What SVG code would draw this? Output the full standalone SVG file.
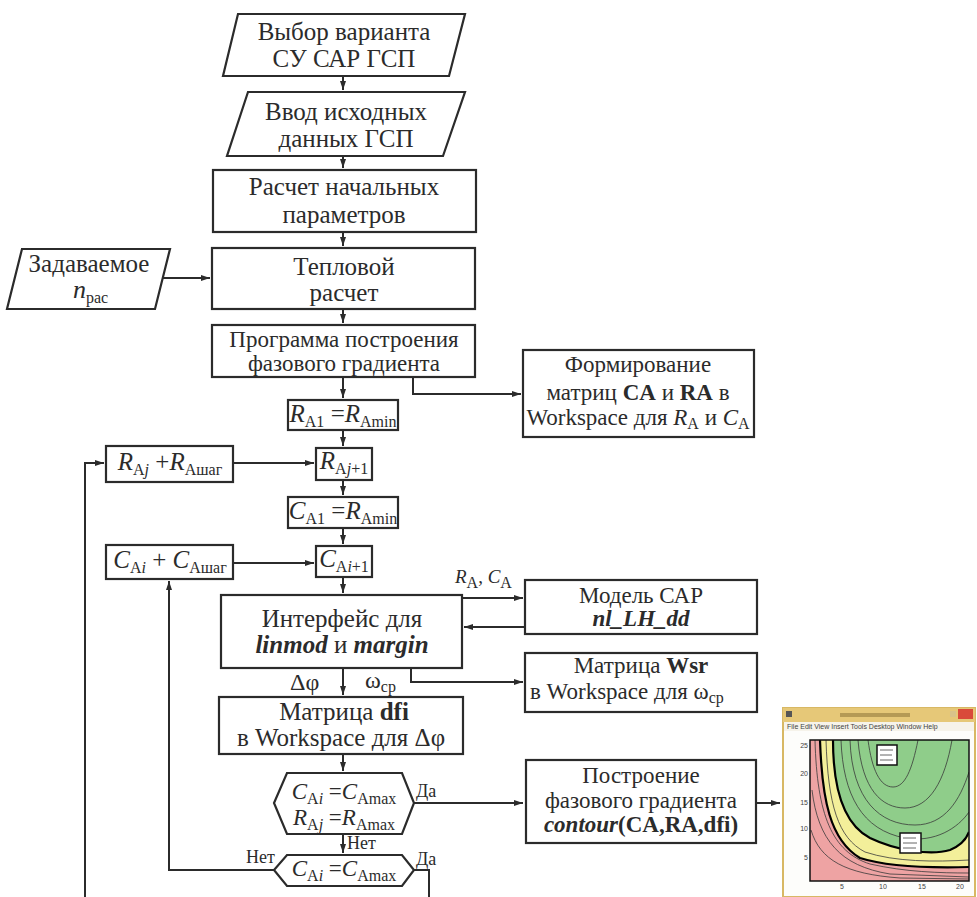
<svg xmlns="http://www.w3.org/2000/svg" width="977" height="897" viewBox="0 0 977 897" font-family="'Liberation Serif','Times New Roman',serif">
<style>
.t{font-family:"Liberation Serif","Times New Roman",serif;fill:#2b2b2b}
.m{font-size:25px}
.r{font-size:23px}
.s{font-size:19px}
.box{fill:#fff;stroke:#2b2b2b;stroke-width:2.2}
.ln{fill:none;stroke:#2b2b2b;stroke-width:2}
.i{font-style:italic}
.b{font-weight:bold}
.sub{font-size:16px}
.ct{fill:none;stroke:#3a3a3a;stroke-width:0.8}
.ck{fill:none;stroke:#000;stroke-width:2.2}
.tk{font-family:"Liberation Sans",Arial,sans-serif;font-size:7px;fill:#444}
</style>
<defs>
<marker id="a" markerWidth="10" markerHeight="8" refX="9" refY="4" orient="auto" markerUnits="userSpaceOnUse"><path d="M0,1 L9,4 L0,7 Z" fill="#2b2b2b"/></marker>
</defs>
<rect width="977" height="897" fill="#fff"/>

<g id="connectors">
<path class="ln" d="M343,76 V90" marker-end="url(#a)"/>
<path class="ln" d="M343,156 V168" marker-end="url(#a)"/>
<path class="ln" d="M343,232 V246" marker-end="url(#a)"/>
<path class="ln" d="M163,278 H210" marker-end="url(#a)"/>
<path class="ln" d="M343,309 V323" marker-end="url(#a)"/>
<path class="ln" d="M413,377 V394 H521" marker-end="url(#a)"/>
<path class="ln" d="M343,377 V398" marker-end="url(#a)"/>
<path class="ln" d="M343,430 V446" marker-end="url(#a)"/>
<path class="ln" d="M233,463 H314" marker-end="url(#a)"/>
<path class="ln" d="M85,897 V463 H104" marker-end="url(#a)"/>
<path class="ln" d="M343,480 V495" marker-end="url(#a)"/>
<path class="ln" d="M343,528 V544" marker-end="url(#a)"/>
<path class="ln" d="M233,563 H314" marker-end="url(#a)"/>
<path class="ln" d="M274,870 H169 V581" marker-end="url(#a)"/>
<path class="ln" d="M343,577 V593" marker-end="url(#a)"/>
<path class="ln" d="M462,598 H523" marker-end="url(#a)"/>
<path class="ln" d="M525,627 H464" marker-end="url(#a)"/>
<path class="ln" d="M411,668 V682 H523" marker-end="url(#a)"/>
<path class="ln" d="M343,668 V695" marker-end="url(#a)"/>
<path class="ln" d="M343,754 V771" marker-end="url(#a)"/>
<path class="ln" d="M414,803 H523" marker-end="url(#a)"/>
<path class="ln" d="M343,834 V853" marker-end="url(#a)"/>
<path class="ln" d="M414,870 H429 V897"/>
<path class="ln" d="M756,803 H780" marker-end="url(#a)"/>
<text class="t s" x="455" y="583"><tspan class="i">R</tspan><tspan class="sub" dy="5">A</tspan><tspan dy="-5">, </tspan><tspan class="i">C</tspan><tspan class="sub" dy="5">A</tspan></text>
<text class="t" font-size="24" x="290" y="690">Δφ</text>
<text class="t" font-size="24" x="365" y="688">ω<tspan class="sub" dy="4">ср</tspan></text>
<text class="t" font-size="18" x="416" y="797">Да</text>
<text class="t" font-size="18" x="347" y="849">Нет</text>
<text class="t" font-size="18" x="246" y="863">Нет</text>
<text class="t" font-size="18" x="416" y="865">Да</text>
</g>

<g id="n1">
<polygon class="box" points="238,14 465,14 449,76 223,76"/>
<text class="t m" x="344" y="40" text-anchor="middle">Выбор варианта</text>
<text class="t m" x="344" y="67" text-anchor="middle">СУ САР ГСП</text>
</g>
<g id="n2">
<polygon class="box" points="248,92 465,92 443,156 227,156"/>
<text class="t m" x="346" y="120" text-anchor="middle">Ввод исходных</text>
<text class="t m" x="346" y="147" text-anchor="middle">данных ГСП</text>
</g>
<g id="n3">
<rect class="box" x="213" y="170" width="263" height="62"/>
<text class="t m" x="344" y="195" text-anchor="middle">Расчет начальных</text>
<text class="t m" x="344" y="223" text-anchor="middle">параметров</text>
</g>
<g id="n4">
<polygon class="box" points="22,249 170,249 155,309 7,309"/>
<text class="t m" x="89" y="272" text-anchor="middle">Задаваемое</text>
<text class="t" x="73" y="298" font-size="26"><tspan class="i">n</tspan><tspan class="sub" dy="5">рас</tspan></text>
</g>
<g id="n5">
<rect class="box" x="212" y="248" width="263" height="61"/>
<text class="t m" x="344" y="275" text-anchor="middle">Тепловой</text>
<text class="t m" x="344" y="301" text-anchor="middle">расчет</text>
</g>
<g id="n6">
<rect class="box" x="212" y="325" width="263" height="52"/>
<text class="t" font-size="23" x="344" y="347" text-anchor="middle">Программа построения</text>
<text class="t" font-size="23" x="344" y="371" text-anchor="middle">фазового градиента</text>
</g>
<g id="n7">
<rect class="box" x="523" y="350" width="231" height="87"/>
<text class="t r" x="638" y="372" text-anchor="middle">Формирование</text>
<text class="t r" x="638" y="400" text-anchor="middle">матриц <tspan class="b">CA</tspan> и <tspan class="b">RA</tspan> в</text>
<text class="t r" x="638" y="425" text-anchor="middle">Workspace для <tspan class="i">R</tspan><tspan class="sub" dy="4">A</tspan><tspan dy="-4"> и </tspan><tspan class="i">C</tspan><tspan class="sub" dy="4">A</tspan></text>
</g>
<g id="n8">
<rect class="box" x="288" y="400" width="110" height="30"/>
<text class="t" font-size="25" x="343" y="422" text-anchor="middle"><tspan class="i">R</tspan><tspan class="sub" dy="5">A1</tspan><tspan dy="-5"> =</tspan><tspan class="i">R</tspan><tspan class="sub" dy="5">Amin</tspan></text>
</g>
<g id="n9">
<rect class="box" x="106" y="446" width="127" height="36"/>
<text class="t" font-size="25" x="170" y="470" text-anchor="middle"><tspan class="i">R</tspan><tspan class="sub" dy="5">A<tspan class="i">j</tspan></tspan><tspan dy="-5"> +</tspan><tspan class="i">R</tspan><tspan class="sub" dy="5">Aшаг</tspan></text>
</g>
<g id="n10">
<rect class="box" x="316" y="448" width="56" height="32"/>
<text class="t" font-size="25" x="344" y="469" text-anchor="middle"><tspan class="i">R</tspan><tspan class="sub" dy="5">A<tspan class="i">j</tspan>+1</tspan></text>
</g>
<g id="n11">
<rect class="box" x="288" y="497" width="110" height="31"/>
<text class="t" font-size="25" x="343" y="519" text-anchor="middle"><tspan class="i">C</tspan><tspan class="sub" dy="5">A1</tspan><tspan dy="-5"> =</tspan><tspan class="i">R</tspan><tspan class="sub" dy="5">Amin</tspan></text>
</g>
<g id="n12">
<rect class="box" x="106" y="545" width="127" height="34"/>
<text class="t" font-size="25" x="170" y="568" text-anchor="middle"><tspan class="i">C</tspan><tspan class="sub" dy="5">A<tspan class="i">i</tspan></tspan><tspan dy="-5"> + </tspan><tspan class="i">C</tspan><tspan class="sub" dy="5">Aшаг</tspan></text>
</g>
<g id="n13">
<rect class="box" x="316" y="546" width="56" height="31"/>
<text class="t" font-size="25" x="344" y="567" text-anchor="middle"><tspan class="i">C</tspan><tspan class="sub" dy="5">A<tspan class="i">i</tspan>+1</tspan></text>
</g>
<g id="n14">
<rect class="box" x="221" y="595" width="241" height="73"/>
<text class="t m" x="342" y="627" text-anchor="middle">Интерфейс для</text>
<text class="t m" x="342" y="653" text-anchor="middle"><tspan class="i b">linmod</tspan> и <tspan class="i b">margin</tspan></text>
</g>
<g id="n15">
<rect class="box" x="525" y="580" width="232" height="54"/>
<text class="t r" x="641" y="603" text-anchor="middle">Модель САР</text>
<text class="t r i b" x="641" y="626" text-anchor="middle">nl_LH_dd</text>
</g>
<g id="n16">
<rect class="box" x="525" y="653" width="232" height="59"/>
<text class="t r" x="641" y="673" text-anchor="middle">Матрица <tspan class="b">Wsr</tspan></text>
<text class="t r" x="530" y="699">в Workspace для <tspan font-size="23">ω</tspan><tspan class="sub" dy="4">ср</tspan></text>
</g>
<g id="n17">
<rect class="box" x="219" y="697" width="244" height="57"/>
<text class="t m" x="344" y="720" text-anchor="middle">Матрица <tspan class="b">dfi</tspan></text>
<text class="t m" x="341" y="746" text-anchor="middle">в Workspace для Δφ</text>
</g>
<g id="n18">
<polygon class="box" points="287,773 402,773 414,803 402,834 287,834 274,803"/>
<text class="t" font-size="23" x="344" y="799" text-anchor="middle"><tspan class="i">C</tspan><tspan class="sub" dy="5">A<tspan class="i">i</tspan></tspan><tspan dy="-5"> =</tspan><tspan class="i">C</tspan><tspan class="sub" dy="5">Amax</tspan></text>
<text class="t" font-size="23" x="344" y="825" text-anchor="middle"><tspan class="i">R</tspan><tspan class="sub" dy="5">A<tspan class="i">j</tspan></tspan><tspan dy="-5"> =</tspan><tspan class="i">R</tspan><tspan class="sub" dy="5">Amax</tspan></text>
</g>
<g id="n19">
<polygon class="box" points="287,855 402,855 414,870 402,886 287,886 274,870"/>
<text class="t" font-size="23" x="344" y="876" text-anchor="middle"><tspan class="i">C</tspan><tspan class="sub" dy="5">A<tspan class="i">i</tspan></tspan><tspan dy="-5"> =</tspan><tspan class="i">C</tspan><tspan class="sub" dy="5">Amax</tspan></text>
</g>
<g id="n20">
<rect class="box" x="526" y="760" width="230" height="83"/>
<text class="t r" x="641" y="783" text-anchor="middle">Построение</text>
<text class="t r" x="641" y="808" text-anchor="middle">фазового градиента</text>
<text class="t r b" x="641" y="832" text-anchor="middle"><tspan class="i">contour</tspan>(CA,RA,dfi)</text>
</g>

<g id="n21">
<rect x="783" y="708" width="192" height="189" fill="#fdfdfb" stroke="#d8b864" stroke-width="2"/>
<rect x="783" y="708" width="192" height="14" fill="#e6c878"/>
<rect x="786" y="711" width="6" height="6" fill="#555"/>
<rect x="840" y="713" width="70" height="4" fill="#b59a55"/>
<rect x="950" y="711" width="6" height="6" fill="#d9c38a"/>
<rect x="958" y="709" width="15" height="10" fill="#d94a3a"/>
<rect x="784" y="722" width="190" height="9" fill="#f6f3ea"/>
<text class="tk" x="787" y="729" font-size="4.5">File  Edit  View  Insert  Tools  Desktop  Window  Help</text>
<clipPath id="pc"><rect x="810" y="740" width="159" height="141"/></clipPath>
<g clip-path="url(#pc)">
<rect x="810" y="740" width="159" height="141" fill="#eea3a3"/>
<path d="M820,740 C822,800 830,840 860,858 C885,866 930,868 969,867 L969,740 Z" fill="#f3ef9a"/>
<path d="M833,740 C833,790 845,825 870,838 C895,850 930,856 950,850 C960,846 966,840 969,832 L969,740 Z" fill="#8fcd8a"/>
<path class="ct" d="M868,740 C872,770 880,787 893,787 C905,787 912,770 918,740"/>
<path class="ct" d="M858,740 C862,790 882,808 905,808 C930,808 945,780 952,740"/>
<path class="ct" d="M850,740 C852,800 880,825 915,825 C945,825 960,800 969,772"/>
<path class="ct" d="M841,740 C843,795 862,830 905,838 C935,843 958,828 969,812"/>
<path class="ct" d="M826,740 C828,805 838,838 865,852 C895,862 935,862 969,860"/>
<path class="ct" d="M815,740 C817,815 832,852 870,864 C905,872 940,873 969,873"/>
<path class="ct" d="M812,790 C818,840 840,866 890,874 L969,877"/>
<path class="ct" d="M811,830 C820,860 845,874 900,878 L969,879"/>
<path class="ck" d="M820,740 C822,800 830,840 860,858 C885,866 930,868 969,867"/>
<path class="ck" d="M833,740 C833,790 845,825 870,838 C895,850 930,856 950,850 C960,846 966,840 969,832"/>
</g>
<rect x="810" y="740" width="159" height="141" fill="none" stroke="#111" stroke-width="1.5"/>
<rect x="877" y="745" width="20" height="20" fill="#fff" stroke="#111" stroke-width="1.5"/>
<path d="M880,750 H893 M880,755 H892 M880,760 H893" stroke="#666" stroke-width="1"/>
<rect x="900" y="833" width="21" height="20" fill="#fff" stroke="#111" stroke-width="1.5"/>
<path d="M903,838 H916 M903,843 H917 M903,848 H916" stroke="#666" stroke-width="1"/>
<text class="tk" x="842" y="889" text-anchor="middle">5</text>
<text class="tk" x="883" y="889" text-anchor="middle">10</text>
<text class="tk" x="922" y="889" text-anchor="middle">15</text>
<text class="tk" x="960" y="889" text-anchor="middle">20</text>
<text class="tk" x="808" y="748" text-anchor="end">25</text>
<text class="tk" x="808" y="776" text-anchor="end">20</text>
<text class="tk" x="808" y="805" text-anchor="end">15</text>
<text class="tk" x="808" y="831" text-anchor="end">10</text>
<text class="tk" x="808" y="860" text-anchor="end">5</text>
</g>
</svg>
